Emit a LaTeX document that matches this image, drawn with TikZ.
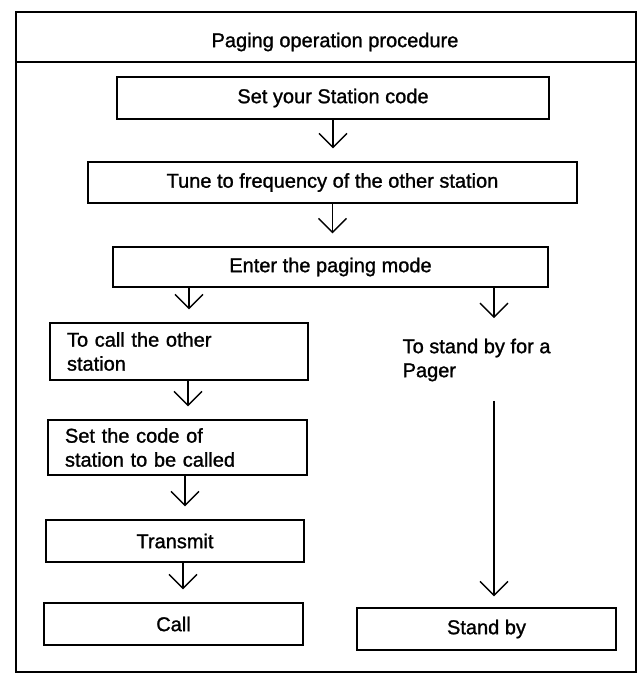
\documentclass[tikz,border=0pt]{standalone}
\usepackage{fontspec}
\setmainfont{Liberation Sans}
\newfontfamily\flowfont{Liberation Sans}[FakeBold=1.2]
\usepackage{tikz}
\usetikzlibrary{arrows.meta,positioning,calc}

\begin{document}
\begin{tikzpicture}[x=1pt, y=-1pt, line width=1.3pt,
  every node/.style={font=\flowfont\fontsize{20}{24}\selectfont},
  box/.style={draw, line width=1.4pt, inner sep=0pt, align=center},
  leftbox/.style={draw, line width=1.4pt, inner ysep=0pt, inner xsep=17pt, align=left},
  flow/.style={-{Straight Barb[length=14pt,width=28pt]}, line width=1.3pt, shorten >=13pt}]
\useasboundingbox (0,0) rectangle (641,679);
\draw[line width=1.5pt] (16,12) rectangle (636,672);
\draw[line width=1.5pt] (16,62) -- (636,62);
\node (title) at (335,42) {Paging operation procedure};
\node[box, minimum width=432pt, minimum height=42pt] (set) at (333,98) {Set your Station code};
\node[box, minimum width=489pt, minimum height=41pt] (tune) at (332.5,182.5) {Tune to frequency of the other station};
\node[box, minimum width=435pt, minimum height=40pt] (enter) at (330.5,267) {Enter the paging mode};
\node[leftbox, text width=224pt, minimum height=57pt] (tocall) at (179,351.5) {To call the other\\station};
\node[leftbox, text width=225pt, minimum height=55pt] (setcode) at (177.5,447.5) {Set the code of\\station to be called};
\node[box, minimum width=258pt, minimum height=42pt] (transmit) at (175,541) {Transmit};
\node[box, minimum width=259pt, minimum height=42pt] (call) at (173.5,624) {Call};
\node[align=left, anchor=west, inner sep=0pt] (pager) at (402,360) {To stand by for a\\Pager};
\node[box, minimum width=259pt, minimum height=42pt] (standby) at (486.5,629) {Stand by};
\coordinate (rcol) at (494,0);
\draw[flow] (set.south) -- (set.south |- tune.north);
\draw[flow] (tune.south) -- (tune.south |- enter.north);
\draw[flow] ($(enter.south -| tocall.north)+(10,0)$) -- ($(tocall.north)+(10,0)$);
\draw[flow] ($(tocall.south)+(9,0)$) -- ($(setcode.north)+(10.5,0)$);
\draw[flow] ($(setcode.south)+(7.5,0)$) -- ($(transmit.north)+(10,0)$);
\draw[flow] ($(transmit.south)+(8,0)$) -- ($(call.north)+(9.5,0)$);
\draw[flow, shorten >=20pt] (enter.south -| rcol) -- (pager.north -| rcol);
\draw[flow, shorten <=19pt, shorten >=11pt] (pager.south -| rcol) -- (standby.north -| rcol);
\end{tikzpicture}
\end{document}
